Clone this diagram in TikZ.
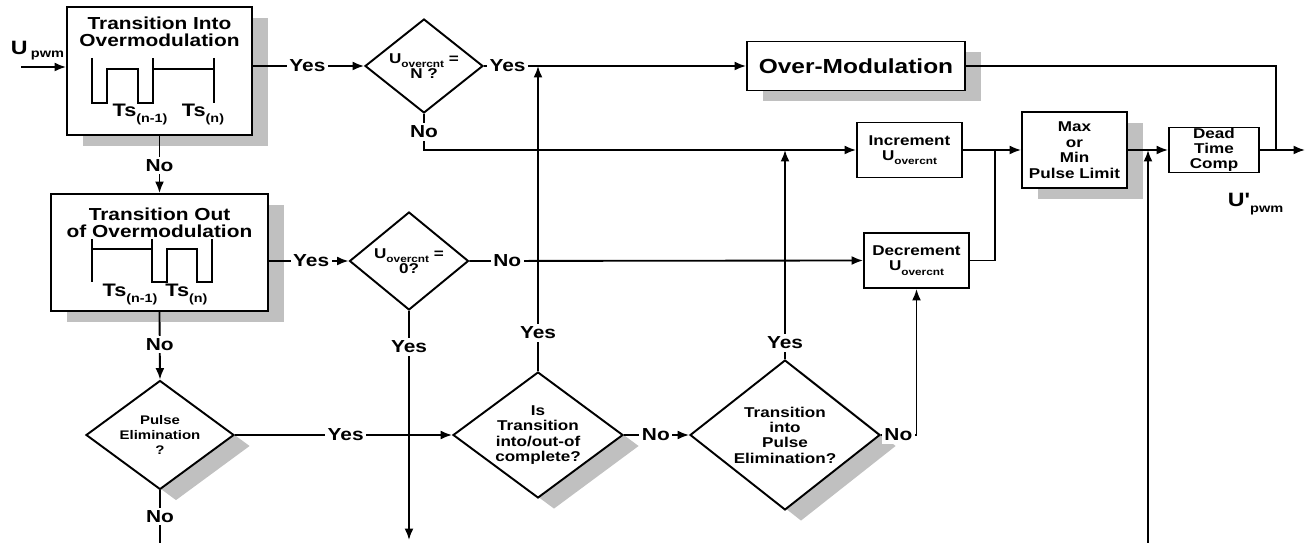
\documentclass[tikz,border=0pt]{standalone}
\usepackage{fontspec}
\newfontfamily\dfont{Liberation Sans}[FakeStretch=1.2]
\usetikzlibrary{shapes, calc, shadows, arrows.meta}
\definecolor{shadowgray}{RGB}{192,192,192}
\newcommand{\fsz}[2]{\fontsize{#1}{#2}\selectfont}
\newcommand{\tsub}[1]{\raisebox{-3pt}{\fsz{6.8}{7}#1}}
\newcommand{\Uoc}{U\raisebox{-2.5pt}{\fsz{5.6}{6}overcnt}}

\begin{document}
\begin{tikzpicture}[x=0.02cm, y=-0.02cm,
		every path/.style={>={Latex[length=0.23cm, width=0.18cm]}, line width=1.05pt},
		shade/.style={drop shadow={shadow xshift=0.32cm, shadow yshift=-0.22cm, opacity=1, fill=shadowgray}},
		box/.style={draw, fill=white, line width=1.1pt, inner sep=1pt, align=center, font=\dfont\bfseries\fsz{8.1}{8.7}},
		dia/.style={diamond, draw, fill=white, line width=1.1pt, inner sep=0pt, align=center, font=\dfont\bfseries\fsz{8.1}{8.7}},
		lbl/.style={fill=white, inner sep=1.5pt, font=\dfont\bfseries\fsz{9.9}{10}},
		title/.style={align=center, inner sep=0pt, font=\dfont\bfseries\fsz{9.9}{9.7}},
		ts/.style={inner sep=0pt, anchor=base, font=\dfont\bfseries\fsz{10.3}{10}},
		wave/.style={line width=1.1pt}]
	\useasboundingbox (0,0) rectangle (1307,543);

	% left column
	\node[box, shade, minimum width=3.7cm, minimum height=2.56cm] (TI) at (159.5,71) {};
	\node[title, anchor=north] at (159.5,16) {Transition Into\\Overmodulation};
	\node[ts] at (140,117) {Ts\tsub{(n-1)}};
	\node[ts] at (203,117) {Ts\tsub{(n)}};

	\node[box, shade, minimum width=4.34cm, minimum height=2.34cm] (TO) at (159.5,252.5) {};
	\node[title, anchor=north] at (159.5,207) {Transition Out\\of Overmodulation};
	\node[ts] at (130,297) {Ts\tsub{(n-1)}};
	\node[ts] at (186.5,297) {Ts\tsub{(n)}};

	\node[dia, shade, minimum width=2.96cm, minimum height=2.18cm, shape aspect=1.36, font=\dfont\bfseries\fsz{7.1}{8.8}] (PE) at (160,435) {Pulse\\Elimination\\?};

	% decisions
	\node[dia, minimum width=2.36cm, minimum height=1.88cm, shape aspect=1.25] (D1) at (424,66) {\Uoc{} =\\N ?};
	\node[dia, minimum width=2.38cm, minimum height=1.96cm, shape aspect=1.25] (D2) at (409,261) {\Uoc{} =\\0?};
	\node[dia, shade, minimum width=3.4cm, minimum height=2.52cm, shape aspect=1.35] (IC) at (538,435) {Is\\Transition\\into/out-of\\complete?};
	\node[dia, shade, minimum width=3.8cm, minimum height=3cm, shape aspect=1.27] (TP) at (785,435) {Transition\\into\\Pulse\\Elimination?};

	% right blocks
	\node[box, shade, minimum width=4.36cm, minimum height=0.98cm, font=\dfont\bfseries\fsz{11.6}{12}] (OM) at (856,66) {Over-Modulation};
	\node[box, minimum width=2.1cm, minimum height=1.1cm] (INC) at (909.5,150) {Increment\\\Uoc};
	\node[box, minimum width=2.1cm, minimum height=1.1cm] (DEC) at (916.5,260.5) {Decrement\\\Uoc};
	\node[box, shade, minimum width=2.1cm, minimum height=1.52cm, font=\dfont\bfseries\fsz{8.1}{8.8}] (MX) at (1074.5,150) {Max\\or\\Min\\Pulse Limit};
	\node[box, inner sep=0pt, minimum width=1.8cm, minimum height=0.9cm, font=\dfont\bfseries\fsz{8.1}{8.4}] (DT) at (1214,150) {Dead\\Time\\Comp};

	\node[anchor=base west, inner sep=0pt, font=\dfont\bfseries\fsz{11}{11}] (UIN) at (10,55) {U\,\raisebox{-1.5pt}{\fsz{6.9}{7}pwm}};
	\node[anchor=base west, inner sep=0pt, font=\dfont\bfseries\fsz{11}{11}] (UOUT) at (1227,207) {U'\raisebox{-3pt}{\fsz{6.9}{7}pwm}};

	% pulse sketches
	\draw[wave] (92,58) -- (92,103) -- (107,103) -- (107,69) -- (138,69) -- (138,103) -- (153,103) -- (153,58);
	\draw[wave] (153,69) -- (214,69);
	\draw[wave] (214,58) -- (214,103);
	\draw[wave] (92,239) -- (92,282);
	\draw[wave] (92,249) -- (152,249);
	\draw[wave] (152,239) -- (152,282) -- (167,282) -- (167,249) -- (197,249) -- (197,282) -- (212,282) -- (212,239);

	\coordinate (IN) at (21,67);
	\coordinate (Y2) at (409,540);
	\coordinate (PD) at (160,543);
	\coordinate (J1) at (995,150);
	\coordinate (OJ) at (1276,150);
	\coordinate (OUT) at (1305,150);
	\coordinate (FB) at (1148,543);

	\draw[->] (IN) -- (IN -| TI.west);
	\draw[->] (D1.west -| TI.east) -- node[lbl, pos=0.49] {Yes} (D1.west);
	\draw[->] (TI.south) -- node[lbl, pos=0.52] {No} (TO.north);
	\draw[->] (D1.east) -- node[lbl, pos=0.09] {Yes} (OM.west);
	\draw[->] (D1.south) |- node[lbl, pos=0.25] {No} (INC.west);
	\draw[->] (D2.west -| TO.east) -- node[lbl, pos=0.53] {Yes} (D2.west);
	\draw[->] (D2.east) -- node[lbl, pos=0.096] {No} (DEC.west);
	\draw[->] (D2.south) -- node[lbl, pos=0.157] {Yes} (Y2);
	\draw[->] (TO.south) -- node[lbl, pos=0.48] {No} (PE.north);
	\draw (PE.south) -- node[lbl, pos=0.5] {No} (PD);
	\draw[->] (PE.east) -- node[lbl, pos=0.51] {Yes} (IC.west);
	\draw[->] (IC.north) -- node[lbl, pos=0.125] {Yes} (IC.north |- OM.west);
	\draw[->] (IC.east) -- node[lbl, pos=0.49] {No} (TP.west);
	\draw[->] (TP.north) -- node[lbl, pos=0.077] {Yes} (TP.north |- INC.west);
	\draw[->] (TP.east) -| node[lbl, pos=0.245] {No} (DEC.south);
	\draw[->] (INC.east) -- (MX.west);
	\draw (DEC.east) -| (J1);
	\draw[->] (MX.east) -- (DT.west);
	\draw[->] (FB) -- (FB |- DT.west);
	\draw[->] (DT.east) -- (OUT);
	\draw (OM.east) -| (OJ);
\end{tikzpicture}
\end{document}
